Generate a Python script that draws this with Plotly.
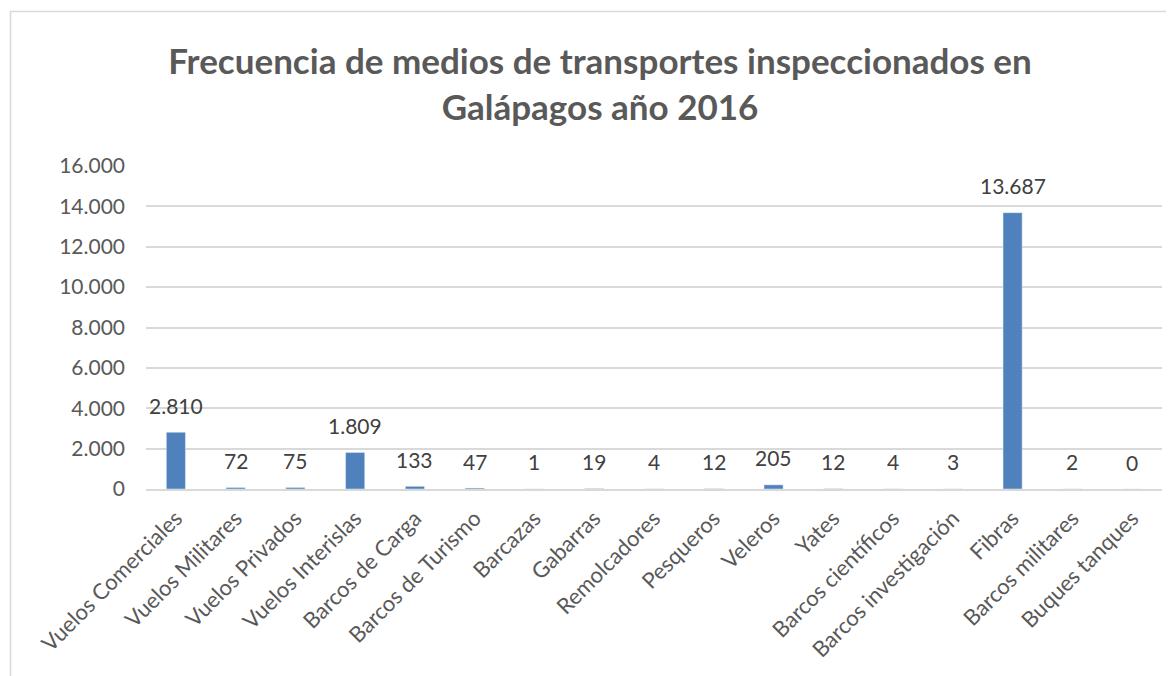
import plotly.graph_objects as go

categories = ["Vuelos Comerciales", "Vuelos Militares", "Vuelos Privados", "Vuelos Interislas",
              "Barcos de Carga", "Barcos de Turismo", "Barcazas", "Gabarras", "Remolcadores",
              "Pesqueros", "Veleros", "Yates", "Barcos científicos", "Barcos investigación",
              "Fibras", "Barcos militares", "Buques tanques"]
values = [2810, 72, 75, 1809, 133, 47, 1, 19, 4, 12, 205, 12, 4, 3, 13687, 2, 0]
y_ticks = [0, 2000, 4000, 6000, 8000, 10000, 12000, 14000, 16000]
title_text = "Frecuencia de medios de transportes inspeccionados en<br>Galápagos año 2016"

FONT = "Lato"
GRAY = "#595959"
OFF = 8  # page body margin
W, H = 1174 - OFF, 676 - OFF
L = 146 - OFF
T = 166 - OFF
B = H - (489 - OFF)
R = W - (1162 - OFF)
pw, ph = W - L - R, H - T - B


def px_x(p):
    return (p - OFF - L) / pw


def px_y(p):
    return (H - B - (p - OFF)) / ph


fig = go.Figure(go.Bar(x=categories, y=values, marker_color="#4F81BD", width=0.32))

for c, v in zip(categories, values):
    fig.add_annotation(x=c, y=v, text=f"{v:,}".replace(",", "."), showarrow=False,
                       yanchor="middle", yshift=27, font=dict(family=FONT, size=21, color="#404040"))

fig.add_shape(type="rect", xref="paper", yref="paper",
              x0=px_x(10.5), x1=px_x(1200), y0=px_y(11.5), y1=px_y(700),
              line=dict(color="#d9d9d9", width=1.5), fillcolor="rgba(0,0,0,0)", layer="below")

fig.update_layout(
    width=W, height=H,
    margin=dict(l=L, r=R, t=T, b=B, autoexpand=False),
    paper_bgcolor="white", plot_bgcolor="white",
    separators=",.",
    showlegend=False,
    title=dict(text=title_text, x=(600 - OFF) / W, xref="container", xanchor="center",
               y=1 - (83 - OFF - 9) / H, yanchor="middle", automargin=False,
               font=dict(family=FONT, size=35, color=GRAY, weight="bold")),
    font=dict(family=FONT, color=GRAY),
    xaxis=dict(tickangle=-45, tickfont=dict(family=FONT, size=22, color=GRAY), showgrid=False,
               showline=True, linecolor="#d9d9d9", linewidth=1.5, ticks="", ticklabelstandoff=6,
               automargin=False),
    yaxis=dict(range=[0, 16000], tickvals=y_ticks, tickformat=",", showgrid=True, gridcolor="#d9d9d9",
               gridwidth=1.5, zeroline=False, showline=False, ticks="", ticklabelstandoff=20,
               automargin=False, tickfont=dict(family=FONT, size=21, color=GRAY)),
)

fig.write_html("out.html")
